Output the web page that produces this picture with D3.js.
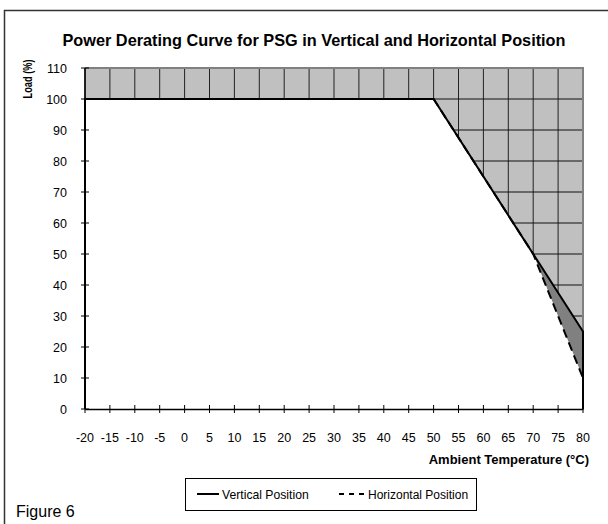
<!DOCTYPE html>
<html><head><meta charset="utf-8">
<script src="https://cdn.jsdelivr.net/npm/d3@7"></script>
<style>body{margin:0;background:#fff}svg{display:block;font-family:"Liberation Sans",Arial,sans-serif}</style>
</head><body><svg id="c" width="608" height="524"></svg>
<script>
const xTicks = [-20,-15,-10,-5,0,5,10,15,20,25,30,35,40,45,50,55,60,65,70,75,80];
const yTicks = [0,10,20,30,40,50,60,70,80,90,100,110];
const verticalTemp = [-20,-20,50,70,80,80];
const verticalLoad = [0,100,100,50,25,0];
const horizontalTemp = [-20,-20,50,70,80,80];
const horizontalLoad = [0,100,100,50,10,0];

const svg = d3.select("#c");
const x = d3.scaleLinear().domain([-20,80]).range([85,583]);
const y = d3.scaleLinear().domain([0,110]).range([409,68]);

// outer frame
svg.append("rect").attr("x",4.5).attr("y",10.5).attr("width",700).attr("height",700)
  .attr("fill","none").attr("stroke","#333").attr("stroke-width",1.5);

// gray plot background
svg.append("rect").attr("x",x(-20)).attr("y",y(110)).attr("width",x(80)-x(-20)).attr("height",y(0)-y(110))
  .attr("fill","#c0c0c0");
// gridlines
const g = svg.append("g");
xTicks.forEach(t=>g.append("line").attr("x1",x(t)).attr("x2",x(t)).attr("y1",y(0)).attr("y2",y(110)).attr("stroke","#222").attr("stroke-width",1));
yTicks.forEach(t=>g.append("line").attr("y1",y(t)).attr("y2",y(t)).attr("x1",x(-20)).attr("x2",x(80)).attr("stroke","#111").attr("stroke-width",1));
// plot border top/right
svg.append("path").attr("d",`M${x(-20)},${y(110)}H${x(80)}V${y(0)}`).attr("fill","none").attr("stroke","#808080").attr("stroke-width",2);

const vPts = verticalTemp.map((t,i)=>[t,verticalLoad[i]]);
const hPts = horizontalTemp.map((t,i)=>[t,horizontalLoad[i]]);
const line = d3.line().x(d=>x(d[0])).y(d=>y(d[1]));

// dark band between the two curves
const band = [[70,50],[80,25],[80,10],[70,50]];
svg.append("path").attr("d",line(band)+"Z").attr("fill","#808080");
// white safe region under horizontal curve
svg.append("path").attr("d",line(hPts)+"Z").attr("fill","#fff");

// axes
const xAxis = d3.axisBottom(x).tickValues(xTicks).tickSize(0).tickFormat("");
svg.append("g").attr("transform",`translate(0,${y(0)})`).call(xAxis).select(".domain").attr("stroke","#000").attr("stroke-width",1.5);
xTicks.forEach(t=>svg.append("line").attr("x1",x(t)).attr("x2",x(t)).attr("y1",y(0)-4).attr("y2",y(0)+4).attr("stroke","#000"));
yTicks.forEach(t=>svg.append("line").attr("y1",y(t)).attr("y2",y(t)).attr("x1",x(-20)-4).attr("x2",x(-20)+4).attr("stroke","#000"));
svg.append("line").attr("x1",x(-20)).attr("x2",x(-20)).attr("y1",y(0)).attr("y2",y(110)).attr("stroke","#000").attr("stroke-width",1.5);

// series lines
svg.append("path").attr("d",line(vPts)).attr("fill","none").attr("stroke","#000").attr("stroke-width",2);
svg.append("path").attr("d",line(hPts)).attr("fill","none").attr("stroke","#000").attr("stroke-width",2).attr("stroke-dasharray","9,5");

// tick labels
yTicks.forEach(t=>svg.append("text").attr("x",67).attr("y",y(t)+4.5).attr("text-anchor","end").attr("font-size",12.5).text(t));
xTicks.forEach(t=>svg.append("text").attr("x",x(t)).attr("y",442).attr("text-anchor","middle").attr("font-size",12.5).text(t));

// titles
svg.append("text").attr("x",314).attr("y",46).attr("text-anchor","middle").attr("font-size",16.3).attr("font-weight","bold")
  .text("Power Derating Curve for PSG in Vertical and Horizontal Position");
svg.append("text").attr("transform","translate(32,79) rotate(-90)").attr("text-anchor","middle").attr("font-size",13).attr("font-weight","bold")
  .attr("textLength",39).attr("lengthAdjust","spacingAndGlyphs").text("Load (%)");
svg.append("text").attr("x",589).attr("y",464).attr("text-anchor","end").attr("font-size",13).attr("font-weight","bold").text("Ambient Temperature (°C)");

// legend
svg.append("rect").attr("x",185.5).attr("y",478.5).attr("width",291).attr("height",32).attr("fill","#fff").attr("stroke","#000");
svg.append("line").attr("x1",197).attr("x2",219).attr("y1",494).attr("y2",494).attr("stroke","#000").attr("stroke-width",2);
svg.append("text").attr("x",222).attr("y",498.5).attr("font-size",12.2).text("Vertical Position");
svg.append("line").attr("x1",339).attr("x2",364).attr("y1",494).attr("y2",494).attr("stroke","#000").attr("stroke-width",2).attr("stroke-dasharray","5,5");
svg.append("text").attr("x",368).attr("y",498.5).attr("font-size",12).text("Horizontal Position");

svg.append("text").attr("x",16).attr("y",517).attr("font-size",16).text("Figure 6");
</script></body></html>
